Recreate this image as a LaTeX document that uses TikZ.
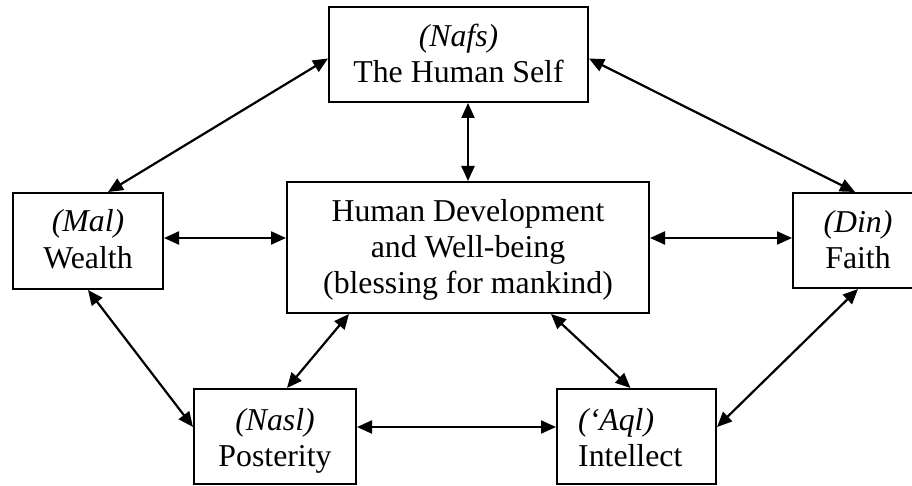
\documentclass[tikz,border=0pt]{standalone}
\usepackage{fontspec}
\setmainfont{Liberation Serif}
\usetikzlibrary{arrows.meta,calc}
\begin{document}
\begin{tikzpicture}[x=1pt,y=-1pt,
  box/.style={draw,line width=2pt,rectangle,inner sep=0pt},
  lbl/.style={inner sep=0pt,anchor=base,font=\fontsize{31.8}{36}\selectfont},
  link/.style={line width=2.2pt,{Triangle[length=15pt,width=13pt]}-{Triangle[length=15pt,width=13pt]}}]
\useasboundingbox (0,0) rectangle (912,486);
\clip (0,0) rectangle (912,486);

% boxes
\node[box,minimum width=259pt,minimum height=95pt] (self) at (458.5,54.5) {};
\node[box,minimum width=362pt,minimum height=131pt] (dev) at (468,247.5) {};
\node[box,minimum width=150pt,minimum height=96pt] (mal) at (88,241) {};
\node[box,minimum width=130pt,minimum height=95pt] (din) at (858,240.5) {};
\node[box,minimum width=162pt,minimum height=95pt] (nasl) at (275,436.5) {};
\node[box,minimum width=159pt,minimum height=95pt] (aql) at (636.5,436.5) {};

% labels
\node[lbl] (selfT) at (458.5,47) {\begin{tabular}[t]{@{}c@{}}\textit{(Nafs)}\\The Human Self\end{tabular}};
\node[lbl] (devT) at (468,222) {\begin{tabular}[t]{@{}c@{}}Human Development\\and Well-being\\(blessing for mankind)\end{tabular}};
\node[lbl] (malT) at (88,232) {\begin{tabular}[t]{@{}c@{}}\textit{(Mal)}\\Wealth\end{tabular}};
\node[lbl] (dinT) at (858,233) {\begin{tabular}[t]{@{}c@{}}\textit{(Din)}\\Faith\end{tabular}};
\node[lbl] (naslT) at (275,430) {\begin{tabular}[t]{@{}c@{}}\textit{(Nasl)}\\Posterity\end{tabular}};
\node[lbl,anchor=base west] (aqlT) at (578,430) {\begin{tabular}[t]{@{}l@{}}\textit{(‘Aql)}\\Intellect\end{tabular}};

% connectors
\coordinate (hy) at (0,238);
\coordinate (ly) at (0,427);
\draw[link] ($(self.west)+(0,4)$) -- ($(mal.north)+(20,0)$);
\draw[link] ($(self.east)+(0,4)$) -- ($(din.north)+(-3,0)$);
\draw[link] (dev.north |- self.south) -- (dev.north);
\draw[link] (mal.east |- hy) -- (dev.west |- hy);
\draw[link] (dev.east |- hy) -- (din.west |- hy);
\draw[link] (mal.south) -- (nasl.west |- ly);
\draw[link] ($(dev.south west)+(63,0)$) -- ($(nasl.north)+(12,0)$);
\draw[link] ($(dev.south east)+(-99,0)$) -- ($(aql.north)+(-6,0)$);
\draw[link] (din.south) -- (aql.east |- ly);
\draw[link] (nasl.east |- ly) -- (aql.west |- ly);
\end{tikzpicture}
\end{document}
